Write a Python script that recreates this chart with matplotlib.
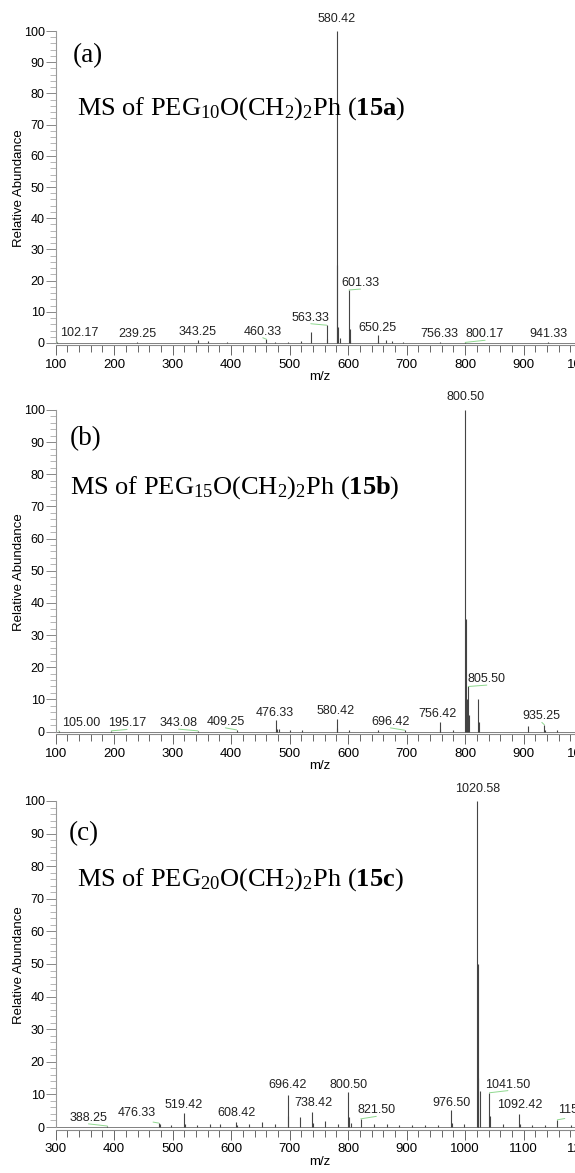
import numpy as np
import matplotlib
matplotlib.use("Agg")
import matplotlib.pyplot as plt
from matplotlib.ticker import MultipleLocator

plt.rcParams['font.family'] = ['Liberation Sans', 'DejaVu Sans']
plt.rcParams['mathtext.fontset'] = 'custom'
plt.rcParams['mathtext.rm'] = 'Liberation Serif'
plt.rcParams['mathtext.it'] = 'Liberation Serif:italic'
plt.rcParams['mathtext.bf'] = 'Liberation Serif:bold'

# ---- panel (a): PEG10O(CH2)2Ph ----
mz_a = [102.17, 239.25, 343.25, 360.2, 392.3, 460.33, 475.3, 497.2, 519.3, 536.3,
        563.33, 564.3, 580.42, 581.42, 582.42, 586.4, 601.33, 602.33, 603.3, 650.25,
        651.3, 664.3, 674.3, 694.2, 756.33, 800.17, 941.33]
int_a = [0.3, 0.2, 1.1, 0.6, 0.3, 1.2, 0.4, 0.4, 0.5, 3.5,
         5.7, 1.2, 100, 25, 5, 1.5, 17, 4.5, 1.0, 2.5,
         0.7, 1.0, 0.7, 0.3, 0.2, 0.2, 0.2]
lab_a = ["102.17", "239.25", "343.25", "460.33", "563.33", "580.42", "601.33",
         "650.25", "756.33", "800.17", "941.33"]
lab_a_peak = [102.17, 239.25, 343.25, 460.33, 563.33, 580.42, 601.33, 650.25, 756.33, 800.17, 941.33]
lab_a_x = [140, 239, 343, 454, 536, 580.42, 621, 650, 755, 834, 942]
lab_a_y = [3.1, 2.8, 3.5, 3.6, 8.1, 103.8, 19.2, 4.8, 2.8, 2.8, 2.8]

# ---- panel (b): PEG15O(CH2)2Ph ----
mz_b = [105.0, 195.17, 343.08, 409.25, 476.33, 478.3, 481.3, 500.3, 520.3, 580.42,
        581.4, 601.3, 651.3, 696.42, 756.42, 757.4, 778.4, 800.5, 801.5, 802.5,
        805.5, 806.5, 822.5, 823.5, 907.3, 935.25, 936.3, 957.3]
int_b = [0.2, 0.2, 0.2, 0.5, 3.5, 0.8, 0.7, 0.4, 0.4, 4.0,
         1.0, 0.6, 0.4, 0.4, 3.0, 0.7, 0.4, 100, 35, 10,
         14, 5, 10, 3, 1.6, 2.1, 0.6, 0.4]
lab_b = ["105.00", "195.17", "343.08", "409.25", "476.33", "580.42", "696.42",
         "756.42", "800.50", "805.50", "935.25"]
lab_b_peak = [105.0, 195.17, 343.08, 409.25, 476.33, 580.42, 696.42, 756.42, 800.5, 805.5, 935.25]
lab_b_x = [143, 222, 310, 390, 474, 578, 672, 753, 800.5, 837, 931]
lab_b_y = [2.5, 2.5, 2.6, 3.0, 5.8, 6.3, 3.0, 5.5, 104.0, 16.3, 4.7]

# ---- panel (c): PEG20O(CH2)2Ph ----
mz_c = [388.25, 476.33, 478.3, 497.3, 519.42, 520.4, 541.3, 564.3, 580.4, 608.42,
        609.4, 630.4, 652.4, 674.4, 696.42, 697.4, 718.4, 738.42, 739.4, 760.4,
        782.4, 800.5, 801.5, 804.5, 821.5, 843.5, 865.5, 887.5, 909.5, 931.5,
        953.5, 976.5, 977.5, 998.5, 1020.58, 1021.58, 1022.58, 1024.5, 1041.5, 1042.5,
        1064.5, 1092.42, 1093.4, 1114.4, 1136.4, 1157.5, 1180.5]
int_c = [0.3, 1.2, 0.8, 0.6, 4.2, 1.0, 0.7, 0.8, 0.9, 1.5,
         0.7, 0.8, 1.6, 1.0, 9.9, 3.5, 3.2, 4.7, 1.2, 1.8,
         0.9, 10.6, 3.0, 1.2, 2.5, 0.8, 0.9, 0.7, 0.6, 0.7,
         0.6, 5.3, 1.3, 0.9, 100, 50, 15, 11, 10.5, 3.5,
         1.0, 3.9, 1.0, 0.6, 0.6, 2.2, 0.5]
lab_c = ["388.25", "476.33", "519.42", "608.42", "696.42", "738.42", "800.50",
         "821.50", "976.50", "1020.58", "1041.50", "1092.42", "1157.50"]
lab_c_peak = [388.25, 476.33, 519.42, 608.42, 696.42, 738.42, 800.5, 821.5, 976.5,
              1020.58, 1041.5, 1092.42, 1157.5]
lab_c_x = [356, 439, 519.5, 609, 697, 741, 801, 848, 977, 1020.58, 1073, 1093, 1197]
lab_c_y = [2.8, 4.2, 6.9, 4.2, 13.0, 7.5, 13.0, 5.1, 7.5, 103.7, 13.0, 6.8, 5.3]

W, H = 575, 1173
fig = plt.figure(figsize=(W / 100, H / 100), dpi=100)


def draw_panel(y0_px, y100_px, xmin, mz, inten, labels, lab_peak, lab_x, lab_y,
               tag, tag_pos, title, title_pos):
    scale = (y0_px - y100_px) / 100.0
    ybot = -0.8
    bottom_px = y0_px - ybot * scale
    left_px = 55.7
    width_px = 585.0
    ax = fig.add_axes([left_px / W, 1 - bottom_px / H, width_px / W, (bottom_px - y100_px) / H])
    ax.set_xlim(xmin, xmin + 1000)
    ax.set_ylim(ybot, 100)

    ax.axhline(0, color='#808080', lw=0.7, zorder=1)
    ax.vlines(mz, 0, inten, color='#444444', lw=0.8, zorder=2)

    heights = dict(zip(mz, inten))
    for t, p, x, y in zip(labels, lab_peak, lab_x, lab_y):
        h = heights[p]
        if abs(x - p) > 4:
            ax.annotate(t, xy=(p, h), xytext=(x, y), ha='center', va='center', fontsize=9,
                        color='#222222', annotation_clip=False,
                        arrowprops=dict(arrowstyle='-', color='#8fd88f', lw=0.7,
                                        shrinkA=0, shrinkB=0, relpos=(0.5, 0)))
        else:
            ax.text(x, y, t, ha='center', va='center', fontsize=9, color='#222222')

    ax.text(tag_pos[0], tag_pos[1], tag, fontfamily='Liberation Serif', fontsize=19.5,
            ha='left', va='center')
    ax.text(title_pos[0], title_pos[1], title, fontfamily='Liberation Serif', fontsize=19,
            ha='left', va='center')

    for s in ['top', 'right']:
        ax.spines[s].set_visible(False)
    ax.spines['left'].set_color('#9a9a9a')
    ax.spines['left'].set_linewidth(0.8)
    ax.spines['left'].set_bounds(0, 100)
    ax.spines['bottom'].set_color('#8a8a8a')
    ax.spines['bottom'].set_linewidth(0.8)

    ax.xaxis.set_major_locator(MultipleLocator(100))
    ax.xaxis.set_minor_locator(MultipleLocator(20))
    ax.set_yticks(np.arange(0, 101, 10))
    ax.yaxis.set_minor_locator(MultipleLocator(2))
    ax.tick_params(axis='x', which='major', direction='out', length=7, width=0.7,
                   color='#666666', labelsize=9.5, pad=3)
    ax.tick_params(axis='x', which='minor', direction='out', length=5, width=0.7, color='#666666')
    ax.tick_params(axis='y', which='major', direction='out', length=7, width=0.7,
                   color='#888888', labelsize=9, pad=1)
    ax.tick_params(axis='y', which='minor', direction='out', length=4, width=0.6, color='#aaaaaa')

    ax.set_ylabel('Relative Abundance', fontsize=9.5)
    ax.yaxis.set_label_coords(-0.053, 0.5)
    ax.set_xlabel('m/z', fontsize=9.5)
    ax.xaxis.set_label_coords(0.452, -26.0 / (bottom_px - y100_px))
    return ax


draw_panel(343.0, 31.0, 100, mz_a, int_a, lab_a, lab_a_peak, lab_a_x, lab_a_y,
           "(a)", (129, 92.0),
           r"MS of PEG$_{10}$O(CH$_{2}$)$_{2}$Ph ($\mathbf{15a}$)", (136, 75))
draw_panel(731.5, 410.0, 100, mz_b, int_b, lab_b, lab_b_peak, lab_b_x, lab_b_y,
           "(b)", (124, 91.0),
           r"MS of PEG$_{15}$O(CH$_{2}$)$_{2}$Ph ($\mathbf{15b}$)", (124, 76))
draw_panel(1127.0, 801.0, 300, mz_c, int_c, lab_c, lab_c_peak, lab_c_x, lab_c_y,
           "(c)", (323, 90.0),
           r"MS of PEG$_{20}$O(CH$_{2}$)$_{2}$Ph ($\mathbf{15c}$)", (335.6, 76))

fig.savefig("out.png", dpi=100)
